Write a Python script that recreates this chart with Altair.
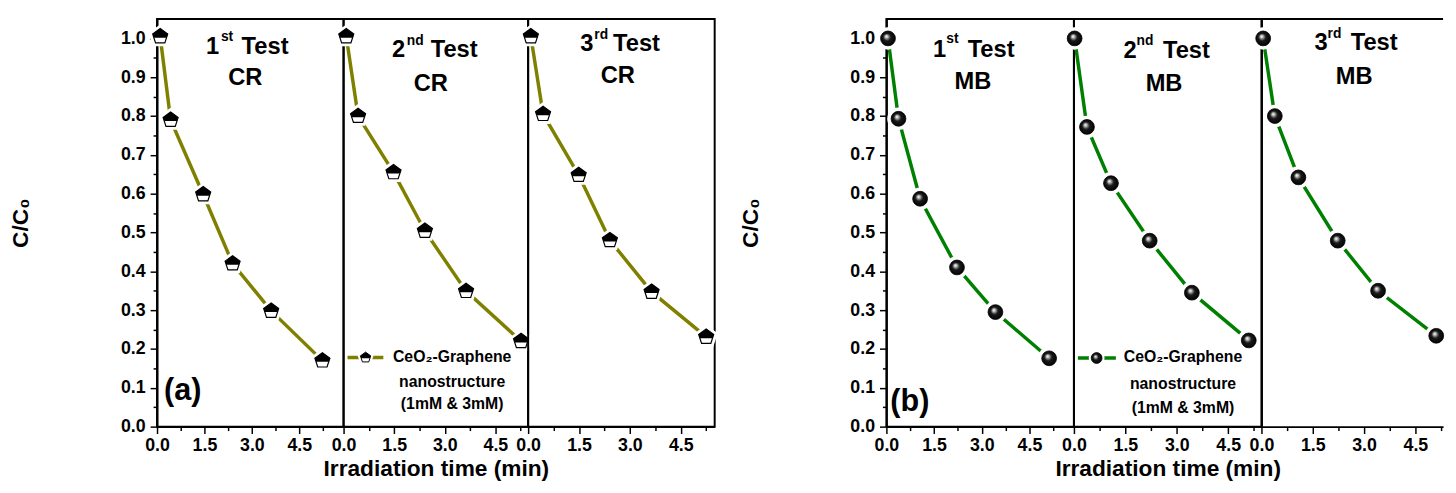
import altair as alt
import pandas as pd

FONT = "Liberation Sans"
OLIVE = "#808000"
GREEN = "#008000"

# ---- data ----------------------------------------------------------------
CR_TIME_1 = [0.10, 0.43, 1.46, 2.39, 3.61, 5.23]
CR_VAL_1 = [1.005, 0.790, 0.598, 0.420, 0.298, 0.170]
CR_TIME_2 = [0.08, 0.43, 1.48, 2.41, 3.63, 5.26]
CR_VAL_2 = [1.005, 0.800, 0.655, 0.504, 0.349, 0.220]
CR_TIME_3 = [0.08, 0.44, 1.49, 2.41, 3.64, 5.25]
CR_VAL_3 = [1.005, 0.805, 0.648, 0.480, 0.347, 0.231]

MB_TIME_1 = [0.05, 0.38, 1.06, 2.22, 3.43, 5.12]
MB_VAL_1 = [1.000, 0.793, 0.587, 0.410, 0.295, 0.176]
MB_TIME_2 = [0.02, 0.38, 1.08, 2.21, 3.44, 5.10]
MB_VAL_2 = [1.000, 0.772, 0.627, 0.479, 0.345, 0.222]
MB_TIME_3 = [0.05, 0.39, 1.08, 2.23, 3.41, 5.11]
MB_VAL_3 = [1.000, 0.800, 0.642, 0.479, 0.350, 0.234]

X_TICKS = [0.0, 0.75, 1.5, 2.25, 3.0, 3.75, 4.5, 5.25]
Y_TICKS = [0.0, 0.05, 0.1, 0.15, 0.2, 0.25, 0.3, 0.35, 0.4, 0.45, 0.5,
           0.55, 0.6, 0.65, 0.7, 0.75, 0.8, 0.85, 0.9, 0.95, 1.0]

TEST_NUM = ["1", "2", "3"]
TEST_SUP = ["st", "nd", "rd"]
DYES = ["CR", "MB"]
PANEL_TAGS = ["(a)", "(b)"]
LEGEND_LINES = ["CeO\u2082-Graphene", "nanostructure", "(1mM & 3mM)"]
X_TITLE = "Irradiation time (min)"
Y_TITLE = "C/C\u2080"

# ---- styling / layout -------------------------------------------------------
PENT = "M0,-1L0.951,-0.309L0.588,0.809L-0.588,0.809L-0.951,-0.309Z"
PENT_TOP = "M0,-1L0.951,-0.309L0.80,0.15L-0.80,0.15L-0.951,-0.309Z"
SPHERE = {"gradient": "radial",
          "x1": 0.38, "y1": 0.35, "r1": 0.0,
          "x2": 0.5, "y2": 0.5, "r2": 0.55,
          "stops": [{"offset": 0.0, "color": "#ffffff"},
                    {"offset": 0.14, "color": "#cfcfcf"},
                    {"offset": 0.45, "color": "#1a1a1a"},
                    {"offset": 1.0, "color": "#000000"}]}

MAJ_X = "abs(datum.value/1.5 - round(datum.value/1.5)) < 0.01"
MAJ_Y = "abs(datum.value*10 - round(datum.value*10)) < 0.01"
HEIGHT = 413
YMAX = 1.05

dummy = pd.DataFrame({"k": [0]})


def txt(s, x, y, size, align="left"):
    return alt.Chart(dummy).mark_text(
        text=s, font=FONT, fontSize=size, fontWeight="bold", color="black",
        align=align, baseline="middle").encode(x=alt.value(x), y=alt.value(y))


def panel(times, vals, width, xmax, kind, idx, ann, xtitle=False, ylab=False,
          yline=False, legend=None, tag=None, frame=True):
    df = pd.DataFrame({"t": times, "c": vals})
    ticks = [v for v in X_TICKS if v <= xmax]
    xaxis = alt.Axis(values=ticks,
                     labelExpr=f"{MAJ_X} ? format(datum.value, '.1f') : ''",
                     tickSize={"condition": {"test": MAJ_X, "value": 7}, "value": 4},
                     labelOverlap=False, labelFlush=False, labelPadding=3,
                     titlePadding=4, titleFontSize=23)
    X = alt.X("t:Q", scale=alt.Scale(domain=[0, xmax], nice=False, zero=False),
              axis=xaxis, title=X_TITLE if xtitle else None)
    yscale = alt.Scale(domain=[0, YMAX], nice=False)
    if ylab:
        yaxis = alt.Axis(values=Y_TICKS,
                         labelExpr=f"{MAJ_Y} ? format(datum.value, '.1f') : ''",
                         tickSize={"condition": {"test": MAJ_Y, "value": 7}, "value": 4},
                         labelOverlap=False, labelFlush=False, labelPadding=5,
                         titlePadding=89, titleFontSize=23)
        Y = alt.Y("c:Q", scale=yscale, axis=yaxis, title=Y_TITLE)
    elif yline:
        Y = alt.Y("c:Q", scale=yscale, title=None,
                  axis=alt.Axis(labels=False, ticks=False, domain=True))
    else:
        Y = alt.Y("c:Q", scale=yscale, axis=None)

    base = alt.Chart(df).encode(x=X, y=Y)
    color = OLIVE if kind == "CR" else GREEN
    layers = [base.mark_line(color=color, strokeWidth=3.5)]
    if kind == "CR":
        layers += [
            base.mark_point(shape=PENT, filled=True, fill="white", size=600,
                            strokeWidth=0, opacity=1),
            base.mark_point(shape=PENT, filled=True, fill="white", size=256,
                            stroke="black", strokeWidth=1.2, opacity=1),
            base.mark_point(shape=PENT_TOP, filled=True, fill="black", size=256,
                            strokeWidth=0, opacity=1),
        ]
    else:
        layers += [
            base.mark_point(shape="circle", filled=True, fill="white", size=520,
                            strokeWidth=0, opacity=1),
            base.mark_point(shape="circle", filled=True, fill=SPHERE, size=225,
                            stroke="black", strokeWidth=0.8, opacity=1),
        ]
    # panel heading: "Nth Test" / dye
    nx, sx, tx, ty, sy, dx, dy = ann
    layers += [
        txt(TEST_NUM[idx], nx, ty + 1, 24),
        txt(TEST_SUP[idx], sx, sy + 1, 14),
        txt("Test", tx, ty + 1, 24),
        txt(kind, dx, dy + 1, 24, align="center"),
    ]
    if tag:
        layers.append(txt(tag[0], tag[1], tag[2], 31))
    if legend:
        lx0, lx1, lmx, ly, tcx, tys = legend
        layers.append(alt.Chart(dummy).mark_rule(color=color, strokeWidth=3.5).encode(
            x=alt.value(lx0), x2=alt.value(lx1), y=alt.value(ly)))
        if kind == "CR":
            layers += [
                alt.Chart(dummy).mark_point(shape=PENT, filled=True, fill="white",
                                            size=300, strokeWidth=0, opacity=1
                                            ).encode(x=alt.value(lmx), y=alt.value(ly)),
                alt.Chart(dummy).mark_point(shape=PENT, filled=True, fill="white",
                                            size=120, stroke="black", strokeWidth=1,
                                            opacity=1).encode(x=alt.value(lmx), y=alt.value(ly)),
                alt.Chart(dummy).mark_point(shape=PENT_TOP, filled=True, fill="black",
                                            size=120, strokeWidth=0, opacity=1
                                            ).encode(x=alt.value(lmx), y=alt.value(ly)),
            ]
        else:
            layers += [
                alt.Chart(dummy).mark_point(shape="circle", filled=True, fill="white",
                                            size=260, strokeWidth=0, opacity=1
                                            ).encode(x=alt.value(lmx), y=alt.value(ly)),
                alt.Chart(dummy).mark_point(shape="circle", filled=True, fill=SPHERE,
                                            size=120, stroke="black", strokeWidth=0.8,
                                            opacity=1).encode(x=alt.value(lmx), y=alt.value(ly)),
            ]
        for line, yy in zip(LEGEND_LINES, tys):
            layers.append(txt(line, tcx, yy, 16, align="center"))
    if not frame:
        layers.append(alt.Chart(dummy).mark_rule(color="black", strokeWidth=2).encode(
            x=alt.value(0), x2=alt.value(width), y=alt.value(0)))
    ch = alt.layer(*layers).properties(width=width, height=HEIGHT)
    if not frame:
        ch = ch.properties(view=alt.ViewBackground(strokeOpacity=0))
    return ch


# annotation positions: num_x, sup_x, test_x, test_y, sup_y, dye_x, dye_y
pa1 = panel(CR_TIME_1, CR_VAL_1, 189, 5.9, "CR", 0,
            (49.7, 64.7, 85.7, 27.5, 17.5, 89.5, 59), ylab=True,
            tag=("(a)", 7, 377))
pa2 = panel(CR_TIME_2, CR_VAL_2, 187, 5.47, "CR", 1,
            (49, 64, 88.3, 30.8, 21.7, 88.3, 65), xtitle=True,
            legend=(4, 40.3, 22.3, 343, 110, (343, 368, 390)))
pa3 = panel(CR_TIME_3, CR_VAL_3, 189, 5.5, "CR", 2,
            (52.8, 67, 86, 24, 15, 90.8, 57))

pb1 = panel(MB_TIME_1, MB_VAL_1, 190, 5.9, "MB", 0,
            (47.3, 60.6, 82.3, 30, 19.3, 87.6, 63), ylab=True,
            tag=("(b)", 4, 388))
pb2 = panel(MB_TIME_2, MB_VAL_2, 190, 5.47, "MB", 1,
            (50.2, 63.5, 90.2, 31.8, 21, 91.3, 64.7), xtitle=True,
            legend=(4, 42.5, 23, 343.5, 110.5, (343, 370, 394)))
pb3 = panel(MB_TIME_3, MB_VAL_3, 184, 5.31, "MB", 2,
            (53.7, 67, 90.4, 23.5, 14.3, 94, 57.7), yline=True, frame=False)

groupA = alt.hconcat(pa1, pa2, pa3, spacing=0, bounds="flush")
groupB = alt.hconcat(pb1, pb2, pb3, spacing=0, bounds="flush")

chart = alt.hconcat(groupA, groupB, spacing=18).properties(
    padding={"left": 0, "top": 7, "right": 0, "bottom": 0}
).configure_view(stroke="black", strokeWidth=2).configure_axis(
    grid=False, domainColor="black", domainWidth=2, tickColor="black", tickWidth=1.5,
    labelFont=FONT, labelFontSize=18, labelFontWeight="bold", labelColor="black",
    titleFont=FONT, titleFontWeight="bold", titleColor="black"
)

chart.save("out.html", embed_options={"renderer": "svg", "actions": False})
